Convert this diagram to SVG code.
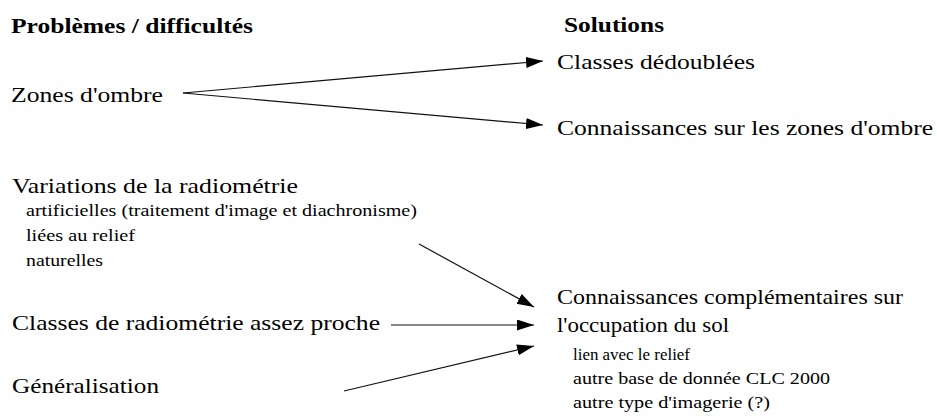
<svg xmlns="http://www.w3.org/2000/svg" width="937" height="416" viewBox="0 0 937 416">
<defs>
<style>
.h{font-weight:bold;font-size:20px}
.m{font-size:22px}
.s{font-size:17px}
.c line{stroke:#111;stroke-width:1.2;marker-end:url(#ah)}
</style>
<marker id="ah" markerUnits="userSpaceOnUse" markerWidth="18" markerHeight="12" refX="17" refY="5.5" orient="auto">
<path d="M0,0 L17,5.5 L0,11 z" fill="#000"/>
</marker>
</defs>
<rect width="937" height="416" fill="#fff"/>
<g font-family="Liberation Serif, serif" fill="#000">
<g id="headers">
<text class="h" x="11" y="33" textLength="242" lengthAdjust="spacingAndGlyphs">Problèmes / difficultés</text>
<text class="h" x="564" y="32" textLength="100" lengthAdjust="spacingAndGlyphs">Solutions</text>
</g>
<g id="zones">
<text class="m" x="11" y="102" textLength="152" lengthAdjust="spacingAndGlyphs">Zones d'ombre</text>
</g>
<g id="classes-dedoublees">
<text class="m" x="557" y="69" textLength="198" lengthAdjust="spacingAndGlyphs">Classes dédoublées</text>
</g>
<g id="connaissances-zones">
<text class="m" x="557" y="135" textLength="376" lengthAdjust="spacingAndGlyphs">Connaissances sur les zones d'ombre</text>
</g>
<g id="variations">
<text class="m" x="12" y="193" textLength="286" lengthAdjust="spacingAndGlyphs">Variations de la radiométrie</text>
<text class="s" x="26" y="216" textLength="391" lengthAdjust="spacingAndGlyphs">artificielles (traitement d'image et diachronisme)</text>
<text class="s" x="26" y="241" textLength="109" lengthAdjust="spacingAndGlyphs">liées au relief</text>
<text class="s" x="26" y="266" textLength="77" lengthAdjust="spacingAndGlyphs">naturelles</text>
</g>
<g id="classes-radio">
<text class="m" x="12" y="330" textLength="368" lengthAdjust="spacingAndGlyphs">Classes de radiométrie assez proche</text>
</g>
<g id="generalisation">
<text class="m" x="12" y="393" textLength="147" lengthAdjust="spacingAndGlyphs">Généralisation</text>
</g>
<g id="connaissances-compl">
<text class="m" x="557" y="304" textLength="346" lengthAdjust="spacingAndGlyphs">Connaissances complémentaires sur</text>
<text class="m" x="557" y="332" textLength="172" lengthAdjust="spacingAndGlyphs">l'occupation du sol</text>
<text class="s" x="573" y="360" textLength="117" lengthAdjust="spacingAndGlyphs">lien avec le relief</text>
<text class="s" x="573" y="384" textLength="257" lengthAdjust="spacingAndGlyphs">autre base de donnée CLC 2000</text>
<text class="s" x="573" y="408" textLength="197" lengthAdjust="spacingAndGlyphs">autre type d'imagerie (?)</text>
</g>
</g>
<g id="connectors" class="c">
<line x1="183" y1="93" x2="543" y2="61"/>
<line x1="183" y1="93" x2="543" y2="125"/>
<line x1="419" y1="244" x2="534" y2="307"/>
<line x1="391" y1="325" x2="534" y2="325"/>
<line x1="344" y1="391" x2="534" y2="346"/>
</g>
</svg>
